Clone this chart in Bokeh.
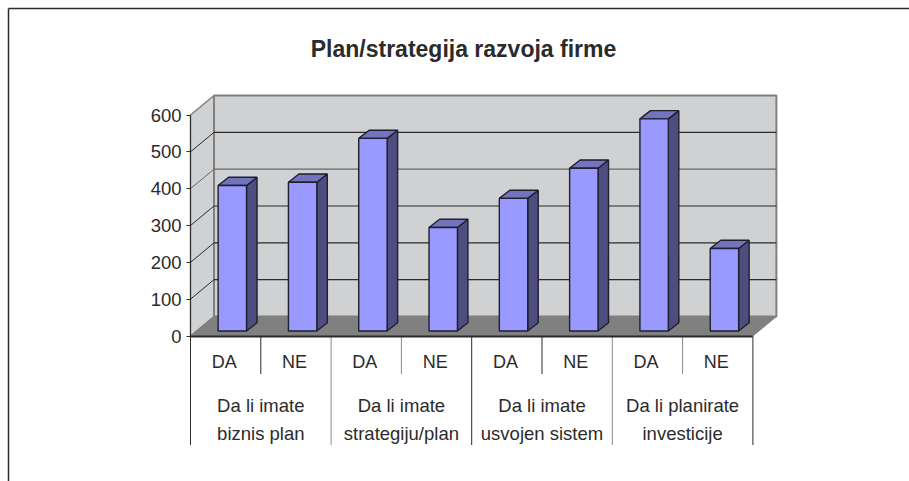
from bokeh.embed import file_html
from bokeh.resources import INLINE
from bokeh.plotting import figure
from bokeh.models import Range1d, FixedTicker
from bokeh.core.properties import value

# ---- data
answers = ["DA", "NE", "DA", "NE", "DA", "NE", "DA", "NE"]
values = [395, 404, 523, 281, 360, 442, 576, 224]
group_line1 = ["Da li imate", "Da li imate", "Da li imate", "Da li planirate"]
group_line2 = ["biznis plan", "strategiju/plan", "usvojen sistem", "investicije"]
y_ticks = [0, 100, 200, 300, 400, 500, 600]
title_text = "Plan/strategija razvoja firme"

# ---- layout: pixel scale of the axes, page position of the origin
W, H = 909, 481
PX_X, PX_Y = 70.3, 0.3683          # pixels per category / per value unit
ORG_X, ORG_Y = 190.0, 335.5         # origin inside the figure
DEPTH_X, DEPTH_Y = 23.5 / PX_X, 19.5 / PX_Y
BAR_OFF_X, BAR_OFF_Y = 0.095, 5.0 / PX_Y
BAR_W = 0.404
BAR_DX, BAR_DY = 10.5 / PX_X, 8.2 / PX_Y
N = len(values)
YMAX = y_ticks[-1]
LABEL_SHIFT = 0.02                  # answer labels sit a little left of the cell centre

FONT = "Liberation Sans"
INK = "#2b2b2b"
GREY = "#808080"

p = figure(width=W, height=H, output_backend="svg", toolbar_location=None,
           x_range=Range1d(-ORG_X / PX_X, (W - ORG_X) / PX_X),
           y_range=Range1d((ORG_Y - H) / PX_Y, ORG_Y / PX_Y),
           min_border=0, outline_line_color=None, background_fill_color="white",
           border_fill_color="white")
p.xgrid.visible = False
p.ygrid.visible = False

# outer frame: only top and left edge are visible in the reference
fx, fy = 8.0 / PX_X, 8.0 / PX_Y
p.segment(x0=[p.x_range.start + fx, p.x_range.start + fx],
          y0=[p.y_range.end - fy, p.y_range.end - fy],
          x1=[p.x_range.end, p.x_range.start + fx],
          y1=[p.y_range.end - fy, p.y_range.start],
          line_color=INK, line_width=1.5)

# walls and floor
p.patch(x=[0, DEPTH_X, DEPTH_X, 0], y=[0, DEPTH_Y, YMAX + DEPTH_Y, YMAX],
        fill_color="#d0d1d3", line_color=GREY, line_width=1.5)
p.quad(left=[DEPTH_X], right=[N + DEPTH_X], bottom=[DEPTH_Y], top=[YMAX + DEPTH_Y],
       fill_color="#d0d1d3", line_color=GREY, line_width=2)
p.patch(x=[0, N, N + DEPTH_X, DEPTH_X], y=[0, 0, DEPTH_Y, DEPTH_Y],
        fill_color=GREY, line_color=GREY, line_width=1)

# gridlines on back and side wall
grid = y_ticks[1:-1]
p.segment(x0=[DEPTH_X] * len(grid), x1=[N + DEPTH_X] * len(grid),
          y0=[v + DEPTH_Y for v in grid], y1=[v + DEPTH_Y for v in grid],
          line_color=[INK, INK, INK, "#666666", INK], line_width=1.2)
p.segment(x0=[0] * len(grid), x1=[DEPTH_X] * len(grid),
          y0=grid, y1=[v + DEPTH_Y for v in grid],
          line_color=[INK, INK, INK, "#666666", INK], line_width=1)

# 3D bars
lefts = [i + 0.5 + BAR_OFF_X - BAR_W / 2 for i in range(N)]
rights = [l + BAR_W for l in lefts]
tops = [v + BAR_OFF_Y for v in values]
p.patches(xs=[[r, r + BAR_DX, r + BAR_DX, r] for r in rights],
          ys=[[BAR_OFF_Y, BAR_OFF_Y + BAR_DY, t + BAR_DY, t] for t in tops],
          fill_color="#4d4d80", line_color="#1f1f2e", line_width=1.4)
p.patches(xs=[[l, r, r + BAR_DX, l + BAR_DX] for l, r in zip(lefts, rights)],
          ys=[[t, t, t + BAR_DY, t + BAR_DY] for t in tops],
          fill_color="#7373bf", line_color="#1f1f2e", line_width=1.4)
p.quad(left=lefts, right=rights, bottom=[BAR_OFF_Y] * N, top=tops,
       fill_color="#9999ff", line_color="#1f1f2e", line_width=1.4)

# category separators below the floor
short_len, long_len = 38 / PX_Y, 109 / PX_Y
sep_x = list(range(N + 1))
sep_col = [INK, INK, "#8a8a8a", "#8a8a8a", INK, INK, "#8a8a8a", "#8a8a8a", INK]
p.segment(x0=sep_x, x1=sep_x, y0=[0] * (N + 1),
          y1=[-(long_len if i % 2 == 0 else short_len) for i in sep_x],
          line_color=sep_col, line_width=1)

# axes
p.yaxis.fixed_location = 0
p.yaxis.bounds = (0, YMAX)
p.yaxis.ticker = FixedTicker(ticks=y_ticks)
p.yaxis.major_tick_out = 4
p.yaxis.major_tick_in = 0
p.yaxis.minor_tick_line_color = None
p.yaxis.major_tick_line_color = INK
p.yaxis.axis_line_color = INK
p.yaxis.axis_line_width = 1
p.yaxis.major_label_standoff = 5
p.yaxis.major_label_text_font = FONT
p.yaxis.major_label_text_font_size = "18.5px"
p.yaxis.major_label_text_color = INK

tick_pos = [i + 0.5 - LABEL_SHIFT for i in range(N)]
p.xaxis.fixed_location = 0
p.xaxis.bounds = (0, N)
p.xaxis.ticker = FixedTicker(ticks=tick_pos)
p.xaxis.major_label_overrides = dict(zip(tick_pos, answers))
p.xaxis.major_tick_out = 0
p.xaxis.major_tick_in = 0
p.xaxis.minor_tick_line_color = None
p.xaxis.axis_line_color = INK
p.xaxis.axis_line_width = 2
p.xaxis.major_label_standoff = 16
p.xaxis.major_label_text_font = FONT
p.xaxis.major_label_text_font_size = "18px"
p.xaxis.major_label_text_color = INK

# group labels and title
gx = [2 * i + 1 for i in range(len(group_line1))]
for labels, off in ((group_line1, 69), (group_line2, 97)):
    p.text(x=gx, y=[0] * len(gx), text=labels, y_offset=off,
           text_align="center", text_baseline="middle",
           text_font=value(FONT), text_font_size="18.5px", text_color=INK)

p.text(x=[(463 - ORG_X) / PX_X], y=[(ORG_Y - 48) / PX_Y], text=[title_text],
       text_align="center", text_baseline="middle",
       text_font=value(FONT), text_font_style="bold",
       text_font_size="23px", text_color=INK)

open("out.html", "w").write(file_html(p, INLINE))
